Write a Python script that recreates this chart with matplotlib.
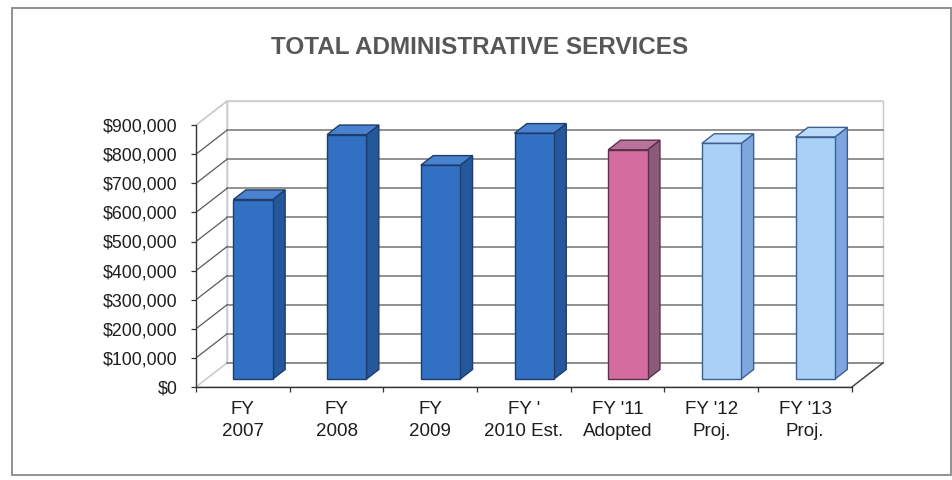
import matplotlib
matplotlib.use("Agg")
import matplotlib.pyplot as plt
from matplotlib.patches import Polygon, Rectangle
from matplotlib.ticker import FixedLocator, FuncFormatter

# ---- data -------------------------------------------------------------
categories = ["FY\n2007", "FY\n2008", "FY\n2009", "FY '\n2010 Est.",
              "FY '11\nAdopted", "FY '12\nProj.", "FY '13\nProj."]
values = [617000, 840000, 735000, 845000, 788000, 810000, 832000]
kinds = ["actual", "actual", "actual", "actual", "adopted", "projected", "projected"]
y_ticks = [0, 100000, 200000, 300000, 400000, 500000, 600000, 700000, 800000, 900000]
title = "TOTAL ADMINISTRATIVE SERVICES"

# ---- styling ----------------------------------------------------------
palette = {
    "actual":    dict(front="#3170c2", side="#25579d", top="#4a82cf", edge="#1e3d6d"),
    "adopted":   dict(front="#d46c9f", side="#8d5b79", top="#b9729a", edge="#5a3148"),
    "projected": dict(front="#a9d0f7", side="#7fa7df", top="#bcdbfa", edge="#3e5f93"),
}
FONT = "Liberation Sans"
plt.rcParams["font.family"] = [FONT, "DejaVu Sans"]

W, H = 953, 480
fig = plt.figure(figsize=(W / 100, H / 100), dpi=100)
fig.patch.set_facecolor("white")

# plot box in pixels (front floor/axis corner, top of the drawing area)
x0_px, x1_px = 196, 905
y0_px, y1_px = 387, 90
cat_px = 93.7
px_per_100k = 29.1
xmin = -0.5
xmax = xmin + (x1_px - x0_px) / cat_px
ymax = (y0_px - y1_px) / px_per_100k * 100000

ax = fig.add_axes([x0_px / W, 1 - y0_px / H, (x1_px - x0_px) / W, (y0_px - y1_px) / H])
ax.set_xlim(xmin, xmax)
ax.set_ylim(0, ymax)
ax.set_facecolor("none")

# oblique depth offset of the 3-D box
DX = 31 / cat_px
DY = 24 / px_per_100k * 100000
n = len(categories)
left, right = -0.5, n - 0.5
top = y_ticks[-1]

# back wall, left wall and floor
ax.add_patch(Polygon([(left + DX, DY), (right + DX, DY), (right + DX, top + DY), (left + DX, top + DY)],
                     closed=True, fc="white", ec="#c9c9c9", lw=1.0, zorder=1))
ax.add_patch(Polygon([(left, 0), (left + DX, DY), (left + DX, top + DY), (left, top)],
                     closed=True, fc="white", ec="#c9c9c9", lw=1.0, zorder=1))
ax.add_patch(Polygon([(left, 0), (right, 0), (right + DX, DY), (left + DX, DY)],
                     closed=True, fc="white", ec="#c9c9c9", lw=1.0, zorder=1))

# gridlines on the back wall and left wall
for v in y_ticks:
    c = "#d0d0d0" if v == top else "#888888"
    ax.plot([left + DX, right + DX], [v + DY, v + DY], color=c, lw=1.3, zorder=2)
    if v not in (0, top):
        ax.plot([left, left + DX], [v, v + DY], color="#5a5a5a", lw=0.9, zorder=2)
ax.plot([left, left + DX], [top, top + DY], color="#c9c9c9", lw=1.0, zorder=2)
ax.plot([right, right + DX], [0, DY], color="#444444", lw=1.0, zorder=2)

# bars: front face through ax.bar, top and side faces as polygons
f0, f1 = 0.33, 0.73
width = 0.42
base = f0 * DY
ddx, ddy = (f1 - f0) * DX, (f1 - f0) * DY
centers = [i + f0 * DX for i in range(n)]
for xc, v, k in zip(centers, values, kinds):
    p = palette[k]
    ax.bar(xc, v, width=width, bottom=base, color=p["front"], edgecolor=p["edge"],
           linewidth=1.0, zorder=4)
    xl, xr = xc - width / 2, xc + width / 2
    yt = base + v
    ax.add_patch(Polygon([(xr, base), (xr + ddx, base + ddy), (xr + ddx, yt + ddy), (xr, yt)],
                         closed=True, fc=p["side"], ec=p["edge"], lw=1.0, zorder=3))
    ax.add_patch(Polygon([(xl, yt), (xr, yt), (xr + ddx, yt + ddy), (xl + ddx, yt + ddy)],
                         closed=True, fc=p["top"], ec=p["edge"], lw=1.0, zorder=3))

# axes: front value axis and front category axis
for s in ("top", "right"):
    ax.spines[s].set_visible(False)
ax.spines["left"].set_bounds(0, top)
ax.spines["bottom"].set_bounds(left, right)
for s in ("left", "bottom"):
    ax.spines[s].set_color("#333333")
    ax.spines[s].set_linewidth(1.0)
    ax.spines[s].set_zorder(5)

ax.yaxis.set_major_locator(FixedLocator(y_ticks))
ax.yaxis.set_major_formatter(FuncFormatter(lambda v, _: f"${v:,.0f}"))
ax.tick_params(axis="y", direction="out", length=3.6, width=0.9, color="#333333",
               pad=9.5, labelsize=12.8, labelcolor="#1e1e1e")

ax.xaxis.set_major_locator(FixedLocator(list(range(n))))
ax.set_xticklabels(categories, linespacing=1.4)
ax.xaxis.set_minor_locator(FixedLocator([i - 0.5 for i in range(n + 1)]))
ax.tick_params(axis="x", which="major", length=0, pad=10, labelsize=13.5, labelcolor="#1e1e1e")
ax.tick_params(axis="x", which="minor", direction="out", length=3.6, width=0.9, color="#333333")

# title and outer frame
fig.text(480 / W, 1 - 47.5 / H, title, ha="center", va="center", fontsize=17.5,
         fontweight="bold", color="#575757")
fig.add_artist(Rectangle((12 / W, 1 - 475 / H), (951 - 12) / W, (475 - 8) / H,
                         transform=fig.transFigure, fill=False, ec="#909090", lw=1.4))

fig.savefig("out.png", dpi=100)
